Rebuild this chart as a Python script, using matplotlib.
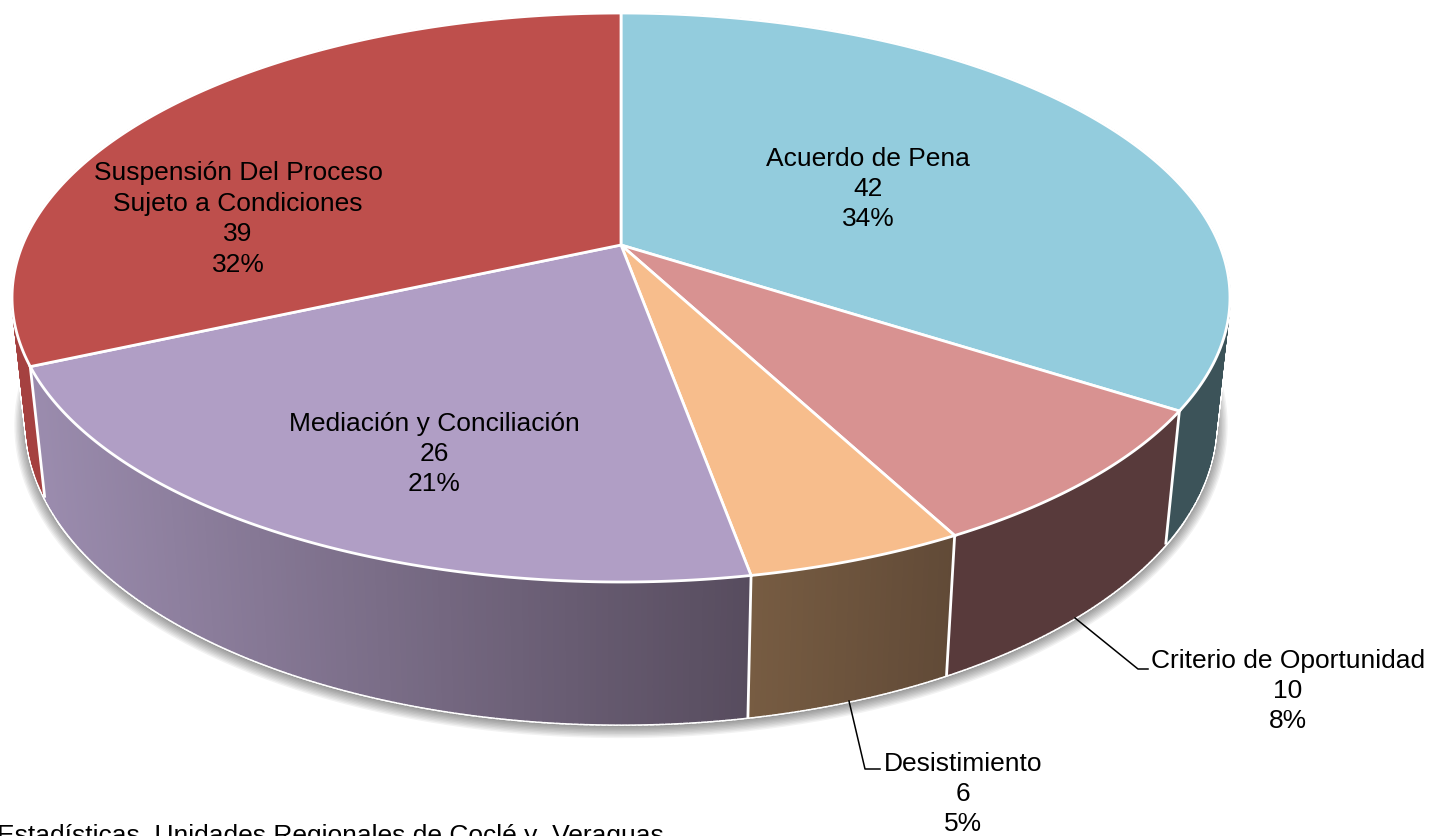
"""Perspective pie of case outcomes, drawn as polygons in pixel coordinates."""
import matplotlib
matplotlib.use("Agg")
import matplotlib.pyplot as plt
import numpy as np
from matplotlib.colors import to_rgb

names = ["Acuerdo de Pena", "Criterio de Oportunidad", "Desistimiento",
         "Mediación y Conciliación", "Suspensión Del Proceso\nSujeto a Condiciones"]
values = [42, 10, 6, 26, 39]

top_colors = ["#93CCDD", "#D89291", "#F7BD8C", "#B09EC5", "#BE4F4C"]
side_start = ["#3C5359", "#583A3B", "#614A37", "#574C5E", "#A54140"]  # right end of the side
side_end = ["#3C5359", "#583A3B", "#775C42", "#9B8CAE", "#A54140"]  # left end of the side

label_pos = [(868, 189), (1288, 691), (963, 794), (434, 454), (238, 219)]

# projection of the unit disc: top face and bottom face
PERSP = 0.1846
CX = 621
TOP = (598.5, 246, 274.8)
BOTTOM = (584, 369, 290)

plt.rcParams["font.family"] = ["Liberation Sans", "DejaVu Sans"]


def project(theta, face, r=1.0):
    """theta in degrees, clockwise from 12 o'clock."""
    a, cy, b = face
    t = np.radians(theta)
    u, v = r * np.sin(t), r * np.cos(t)
    d = 1 + PERSP * v
    return CX + a * u / d, cy - b * v / d


def mix(c1, c2, t):
    c1, c2 = np.array(to_rgb(c1)), np.array(to_rgb(c2))
    return tuple(c1 + (c2 - c1) * t)


fig = plt.figure(figsize=(14.32, 8.37), dpi=100)
ax = fig.add_axes([0, 0, 1, 1])
ax.set_xlim(0, 1432)
ax.set_ylim(837, 0)
ax.axis("off")

total = sum(values)
edges = np.concatenate([[0], np.cumsum(values) / total * 360])

# soft shadow under the front rim
arc = np.linspace(68, 292, 300)
sx, sy = project(arc, BOTTOM)
for w in np.arange(2, 20, 2):
    ax.plot(sx, sy + 2, color="black", lw=w, alpha=0.05, solid_capstyle="round", zorder=1)

# side strips, back to front
quads = []
for i in range(len(values)):
    th = np.linspace(edges[i], edges[i + 1], int(values[i] * 6) + 2)
    xl = project(edges[i + 1], BOTTOM)[0]
    xr = project(edges[i], BOTTOM)[0]
    for t0, t1 in zip(th[:-1], th[1:]):
        x0, y0 = project(t0, TOP)
        x1, y1 = project(t1, TOP)
        x2, y2 = project(t1, BOTTOM)
        x3, y3 = project(t0, BOTTOM)
        f = np.clip((xr - (x2 + x3) / 2) / (xr - xl), 0, 1) if xr != xl else 0
        quads.append((np.cos(np.radians((t0 + t1) / 2)),
                      [x0, x1, x2, x3], [y0, y1, y2, y3],
                      mix(side_start[i], side_end[i], f)))
quads.sort(key=lambda q: -q[0])

for _, qx, qy, _c in quads:
    ax.fill(qx, qy, facecolor="white", edgecolor="white", lw=3.2, zorder=2)
for _, qx, qy, c in quads:
    ax.fill(qx, qy, facecolor=c, edgecolor=c, lw=1.0, zorder=3)

# white seams between the side strips
for e in edges:
    if 90 < e % 360 < 270:
        xa, ya = project(e, TOP)
        xb, yb = project(e, BOTTOM)
        ax.plot([xa, xb], [ya, yb], color="white", lw=2, zorder=4)

# top face
for i in range(len(values)):
    th = np.linspace(edges[i], edges[i + 1], 160)
    ax_, ay_ = project(th, TOP)
    cx_, cy_ = project(0.0, TOP, r=0.0)
    ax.fill(np.r_[cx_, ax_], np.r_[cy_, ay_], facecolor=top_colors[i],
            edgecolor="white", lw=2, joinstyle="miter", zorder=5)

# leader lines
ax.plot([1075, 1138, 1148], [619, 670, 670], color="black", lw=1.1, zorder=6)
ax.plot([849, 865, 880], [702, 770, 770], color="black", lw=1.1, zorder=6)

for name, v, pos in zip(names, values, label_pos):
    ax.text(pos[0], pos[1], f"{name}\n{v}\n{v / total * 100:.0f}%", ha="center", va="center",
            fontsize=19, color="black", linespacing=1.34, zorder=7)

ax.text(-3, 824, "Estadísticas, Unidades Regionales de Coclé y  Veraguas", ha="left", va="top",
        fontsize=19, color="black", zorder=7, clip_on=False)

fig.savefig("out.png", dpi=100)
plt.close(fig)
